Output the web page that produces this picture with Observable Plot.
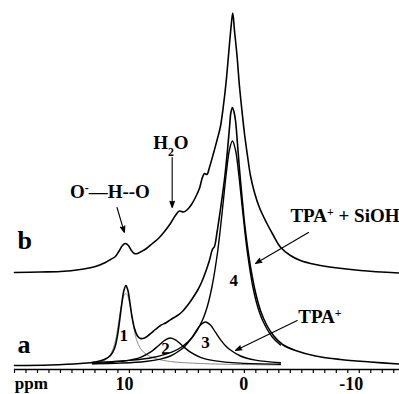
<!DOCTYPE html>
<html><head><meta charset="utf-8">
<script src="https://cdn.jsdelivr.net/npm/d3@7"></script>
<script src="https://cdn.jsdelivr.net/npm/@observablehq/plot@0.6"></script>
<style>html,body{margin:0;padding:0;background:#fff}svg{display:block}</style>
</head><body><div id="chart"></div>
<script>
// spectrum b (ppm, intensity)
const traceB = [[20,97],[17.75,97.5],[16,98],[14.27,100],[12.96,103],[12.09,107],[11.65,110],[11.22,113],[10.87,119],[10.61,124],[10.35,126],[10.09,124],[9.83,119],[9.57,116],[9.3,116],[8.96,118],[8.52,121],[8,126],[7.48,131],[6.95,138],[6.43,146],[6,154],[5.65,158.5],[5.3,157.5],[4.95,160],[4.6,165],[4.26,172],[3.91,181],[3.65,192],[3.47,196],[3.26,195],[3.04,202],[2.69,216],[2.34,231],[2.08,243],[1.82,264],[1.6,286],[1.38,314],[1.17,341],[1.01,356.5],[0.86,339],[0.64,314],[0.43,284],[0.21,259],[-0.01,236],[-0.27,214],[-0.53,194],[-0.88,177],[-1.31,162],[-1.92,147],[-2.53,134],[-3.13,122.5],[-4.01,114],[-4.88,109],[-6.19,105],[-7.75,102],[-10.1,99],[-13.5,96.5]];
// spectrum a
const traceA = [[20,4],[16.88,4.5],[14.26,6],[12.96,7.5],[12.18,10],[11.65,14],[11.3,21],[11.04,34],[10.83,51],[10.65,67],[10.48,79],[10.3,84],[10.13,79],[9.96,67],[9.78,53],[9.56,41],[9.3,33.5],[9.04,31],[8.69,31.5],[8.26,35],[7.74,40],[7.3,44],[6.78,47],[6.26,51],[5.82,54],[5.39,58],[4.95,64],[4.52,71],[4.08,79],[3.73,87],[3.39,97],[3.04,109],[2.78,120],[2.6,123],[2.38,137],[2.12,157],[1.91,174],[1.69,194],[1.47,219],[1.3,241],[1.17,257],[1.04,262],[0.91,258],[0.77,249],[0.6,226],[0.43,201],[0.21,173],[-0.01,147],[-0.27,123],[-0.62,97],[-0.97,77],[-1.4,59],[-1.92,45],[-2.53,34],[-3.32,25],[-4.45,19],[-6.19,13.5],[-8.35,10],[-10.96,7.5],[-13.5,5.5]];
// deconvolution components of a
const peak1 = [[13.22,6],[12.52,7.5],[11.99,10.5],[11.56,17],[11.21,29],[10.96,46],[10.7,64],[10.48,74],[10.3,76],[10.13,73],[9.91,62],[9.65,44],[9.39,30],[9.04,21],[8.52,15],[7.74,11],[6.43,8],[3.82,6],[0.34,5],[-3.14,4.5]];
const peak2 = [[13.22,6],[11.65,7],[10.35,8.6],[9.04,12.2],[8.17,17.3],[7.48,23.8],[6.95,29],[6.43,31.5],[5.91,29],[5.39,23.8],[4.69,17.3],[3.82,12.2],[2.52,8.6],[0.34,6.4],[-3.14,5.3]];
const peak3 = [[13.22,5.6],[10.79,6.4],[8.61,8],[7.3,10.4],[6.43,13.5],[5.56,19.5],[5.13,23.8],[4.69,29.9],[4.26,37.3],[3.82,44.4],[3.39,47.5],[2.95,44.4],[2.52,37.3],[2.08,29.9],[1.64,23.8],[1.21,19.5],[0.34,13.5],[-0.97,9.4],[-3.14,6.8]];
const peak4 = [[13.22,7],[9.74,9.4],[8,12],[6.26,17.7],[5.39,23],[4.52,32.2],[3.65,49.3],[3.21,63.5],[2.78,85],[2.34,116.5],[2.08,141.5],[1.82,169.5],[1.56,197.5],[1.3,219.5],[1.04,228.5],[0.77,219.5],[0.51,197.5],[0.25,169.5],[-0.01,141.5],[-0.27,116.5],[-0.7,85],[-1.14,63.5],[-1.58,49.3],[-2.45,32.2],[-3.14,24.5]];

const tickValues = d3.range(20, -14, -1);
const tickLabels = [10, 0, -10];
const peakLabels = [{t:"1",x:10.5,y:34},{t:"2",x:6.87,y:21},{t:"3",x:3.39,y:27.3},{t:"4",x:0.92,y:89}];
const annotations = [
  {t:"O⁻—H--O", x:11.7, y:178, anchor:"middle"},
  {t:"H₂O", x:6.39, y:227, anchor:"middle"},
  {t:"TPA⁺ + SiOH", x:-4.01, y:154, anchor:"start"},
  {t:"TPA⁺", x:-4.69, y:53, anchor:"start"}
];
const traceLabels = [{t:"b", x:19.74, y:129},{t:"a", x:19.74, y:25}];
const arrows = [
  {x1:11.08,y1:162,x2:10.44,y2:137},
  {x1:6.28,y1:212,x2:6.28,y2:162},
  {x1:-5.58,y1:137,x2:-0.97,y2:106},
  {x1:-4.6,y1:49,x2:0.77,y2:19}
];

const rows = arr => arr.map(([ppm, v]) => ({ppm, v}));
const serif = "'Liberation Serif','Times New Roman',serif";

const chart = Plot.plot({
  width: 399, height: 394,
  marginLeft: 14, marginRight: 0, marginTop: 0, marginBottom: 25,
  x: {domain: [20, -13.5]},
  y: {domain: [0, 369], axis: null},
  style: {fontFamily: serif, background: "#fff", color: "#000", overflow: "visible"},
  marks: [
    Plot.axisX({ticks: tickValues, tickSize: 4, tickFormat: () => "", label: null, stroke: "#000", strokeWidth: 1.2}),
    Plot.ruleY([0], {stroke: "#000", strokeWidth: 1.4}),
    Plot.text(tickLabels, {x: d => d, y: -15, text: d => String(d), textAnchor: "end", dx: 4, fontSize: 18, fontWeight: "bold"}),
    Plot.text(["ppm"], {x: 18.53, y: -14.5, text: d => d, fontSize: 17, fontWeight: "bold"}),
    Plot.line(rows(peak1), {x: "ppm", y: "v", curve: "catmull-rom", stroke: "#8c8c8c", strokeWidth: 1}),
    Plot.line(rows(peak2), {x: "ppm", y: "v", curve: "catmull-rom", stroke: "#000", strokeWidth: 1.4}),
    Plot.line(rows(peak3), {x: "ppm", y: "v", curve: "catmull-rom", stroke: "#000", strokeWidth: 1.4}),
    Plot.line(rows(peak4), {x: "ppm", y: "v", curve: "catmull-rom", stroke: "#000", strokeWidth: 1.4}),
    Plot.line(rows(traceA), {x: "ppm", y: "v", curve: "catmull-rom", stroke: "#000", strokeWidth: 1.6}),
    Plot.line(rows(traceB), {x: "ppm", y: "v", curve: "catmull-rom", stroke: "#000", strokeWidth: 1.6}),
    Plot.arrow(arrows, {x1: "x1", y1: "y1", x2: "x2", y2: "y2", stroke: "#000", fill: "#000", strokeWidth: 1.1, headLength: 9, headAngle: 40}),
    Plot.text(peakLabels, {x: "x", y: "y", text: "t", fontSize: 17, fontWeight: "bold"}),
    Plot.text(annotations.filter(d => d.anchor === "middle"), {x: "x", y: "y", text: "t", fontSize: 19, fontWeight: "bold", textAnchor: "middle"}),
    Plot.text(annotations.filter(d => d.anchor === "start"), {x: "x", y: "y", text: "t", fontSize: 19, fontWeight: "bold", textAnchor: "start"}),
    Plot.text(traceLabels, {x: "x", y: "y", text: "t", fontSize: 26, fontWeight: "bold", textAnchor: "start"})
  ]
});

// render super/subscripts as shifted tspans
const NS = "http://www.w3.org/2000/svg";
chart.querySelectorAll("text").forEach(t => {
  const s = t.textContent;
  if (!/[⁺⁻₂]/.test(s)) return;
  while (t.firstChild) t.removeChild(t.firstChild);
  let buf = "";
  const flush = () => { if (buf) { const ts = document.createElementNS(NS, "tspan"); ts.textContent = buf; t.appendChild(ts); buf = ""; } };
  for (const ch of s) {
    if (ch === "⁺" || ch === "⁻" || ch === "₂") {
      flush();
      const ts = document.createElementNS(NS, "tspan");
      ts.textContent = ch === "⁺" ? "+" : ch === "⁻" ? "-" : "2";
      ts.setAttribute("font-size", "62%");
      ts.setAttribute("baseline-shift", ch === "₂" ? "sub" : "super");
      t.appendChild(ts);
    } else buf += ch;
  }
  flush();
});
document.getElementById("chart").appendChild(chart);
</script>
</body></html>
